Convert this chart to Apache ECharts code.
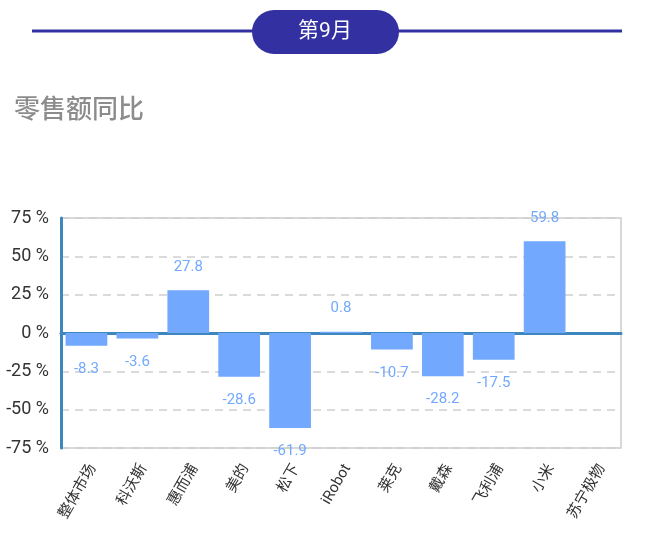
<!DOCTYPE html>
<html>
<head>
<meta charset="utf-8">
<script src="https://cdn.jsdelivr.net/npm/echarts@6/dist/echarts.min.js"></script>
<style>
html, body { margin: 0; padding: 0; background: #fff; }
#main { width: 650px; height: 546px; }
</style>
</head>
<body>
<div id="main"></div>
<script>
var myChart = echarts.init(document.getElementById('main'));

var font = 'Roboto, "Noto Sans CJK SC", sans-serif';
var brandColor = '#3331a1';
var barColor = '#72a9fe';
var axisBlue = '#3d87bd';

var brands = ['整体市场', '科沃斯', '惠而浦', '美的', '松下', 'iRobot', '莱克', '戴森', '飞利浦', '小米', '苏宁极物'];
var yoyValues = [-8.3, -3.6, 27.8, -28.6, -61.9, 0.8, -10.7, -28.2, -17.5, 59.8, null];
var yTicks = { min: -75, max: 75, step: 25 };

var barData = yoyValues.map(function (v) {
    if (v === null) return '-';
    return {
        value: v,
        label: { position: v < 0 ? 'bottom' : 'top' }
    };
});

var option = {
    textStyle: { fontFamily: font },
    graphic: [
        {
            type: 'line',
            shape: { x1: 32, y1: 31, x2: 622, y2: 31 },
            style: { stroke: brandColor, lineWidth: 3 }
        },
        {
            type: 'rect',
            shape: { x: 252, y: 10, width: 147, height: 44, r: 22 },
            style: { fill: brandColor }
        },
        {
            type: 'text',
            x: 325, y: 32,
            style: {
                text: '第9月', fill: '#fff', font: '21px ' + font,
                align: 'center', verticalAlign: 'middle'
            }
        },
        {
            type: 'text',
            x: 14, y: 111,
            style: {
                text: '零售额同比', fill: '#8c8c8c', font: '500 26px ' + font,
                verticalAlign: 'middle'
            }
        }
    ],
    grid: {
        left: 61, right: 29, top: 218, bottom: 98,
        outerBoundsMode: 'none',
        containLabel: false,
        show: true, borderColor: '#cccccc', borderWidth: 1.5
    },
    xAxis: {
        type: 'category',
        data: brands,
        axisLine: { onZero: true, lineStyle: { color: axisBlue, width: 3 } },
        axisTick: { show: false },
        axisLabel: {
            rotate: 60, color: '#333', fontSize: 15, margin: 14,
            verticalAlign: 'top', fontFamily: font
        }
    },
    yAxis: {
        type: 'value',
        min: yTicks.min, max: yTicks.max, interval: yTicks.step,
        axisLine: { show: true, lineStyle: { color: axisBlue, width: 3 } },
        axisTick: { show: false },
        axisLabel: { formatter: '{value} %', color: '#333', fontSize: 18, margin: 12 },
        splitLine: { lineStyle: { type: [8, 6], color: '#d0d0d0', width: 1.5 } }
    },
    series: [{
        type: 'bar',
        data: barData,
        barCategoryGap: '18%',
        itemStyle: { color: barColor },
        label: {
            show: true, color: barColor, fontSize: 15, distance: 16
        }
    }]
};

myChart.setOption(option);
</script>
</body>
</html>
